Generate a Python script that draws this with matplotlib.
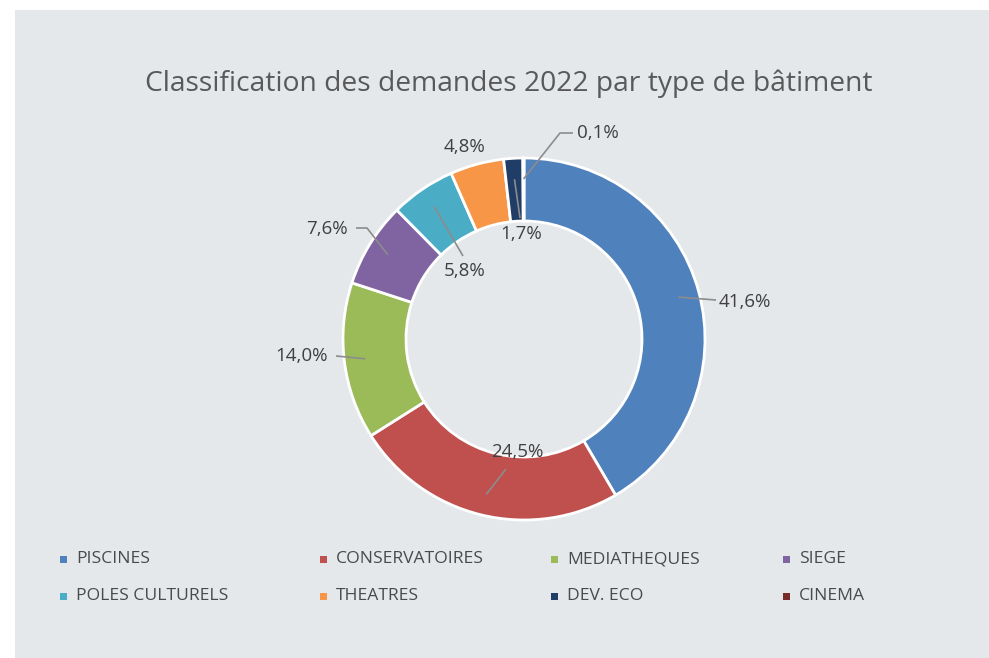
import numpy as np
import matplotlib
matplotlib.use("Agg")
import matplotlib.pyplot as plt
from matplotlib.patches import Rectangle

categories = ["PISCINES", "CONSERVATOIRES", "MEDIATHEQUES", "SIEGE",
              "POLES CULTURELS", "THEATRES", "DEV. ECO", "CINEMA"]
values = [41.6, 24.5, 14.0, 7.6, 5.8, 4.8, 1.7, 0.1]
colors = ["#4f81bd", "#c0504d", "#9bbb59", "#8064a2",
          "#4bacc6", "#f79646", "#1f3d66", "#772c2a"]

# layout of data labels (pixel coords, y from top): text centre, leader start, elbow
label_pos = [(745, 302), (517, 452), (302, 356), (327, 229),
             (465, 271), (465, 147), (521, 234), (598, 133)]
leader_start = [(716, 300), (506, 469), (336, 356), (356, 228),
                (463, 256), None, (520, 218), (573, 133)]
leader_elbow = [None, None, None, (367, 228), None, None, None, (560, 133)]

W, H = 989, 658
TXT = "#595959"
LBL = "#404040"

fig = plt.figure(figsize=(W / 100, H / 100), dpi=100)
fig.patch.set_facecolor("white")

ax = fig.add_axes([0, 0, 1, 1], zorder=1)
ax.add_patch(Rectangle((15, 0), W - 15, H - 10, facecolor="#e4e8eb",
                       edgecolor="none", zorder=0))

cx, cy, R, ring = 524, H - 339, 181, 63
wedges, _ = ax.pie(values, colors=colors, startangle=90, counterclock=False,
                   center=(cx, cy), radius=R, frame=True,
                   wedgeprops=dict(width=ring, edgecolor="white", linewidth=2))
ax.set_xlim(0, W)
ax.set_ylim(0, H)
ax.set_aspect("equal")
ax.axis("off")

# data labels with leader lines
for w, v, (lx, ly), st, el in zip(wedges, values, label_pos, leader_start, leader_elbow):
    txt = f"{v:.1f}%".replace(".", ",")
    ax.text(lx, H - ly, txt, ha="center", va="center", fontsize=13.5,
            color=LBL, family="Open Sans", zorder=5)
    if st is None:
        continue
    ang = np.deg2rad((w.theta1 + w.theta2) / 2)
    r_anchor = R - 21
    pts = [(st[0], H - st[1])]
    if el is not None:
        pts.append((el[0], H - el[1]))
    pts.append((cx + r_anchor * np.cos(ang), cy + r_anchor * np.sin(ang)))
    xs, ys = zip(*pts)
    ax.plot(xs, ys, color="#8c8c8c", lw=1.2, solid_capstyle="butt", zorder=4)

ax.text(509, H - 84, "Classification des demandes 2022 par type de bâtiment",
        ha="center", va="center", fontsize=20.3, color=TXT, family="Open Sans")

# legend, 2 rows x 4 columns
col_x = [63, 323, 554, 786]
row_y = [559, 596]
for i, (name, c) in enumerate(zip(categories, colors)):
    x = col_x[i % 4]
    y = H - row_y[i // 4]
    ax.add_patch(Rectangle((x - 3.5, y - 3.5), 7, 7, facecolor=c, edgecolor="none"))
    ax.text(x + 13, y, name, ha="left", va="center", fontsize=12.6, color="#4a4a4a",
            family="Open Sans")

fig.savefig("out.png", dpi=100, facecolor="white")
